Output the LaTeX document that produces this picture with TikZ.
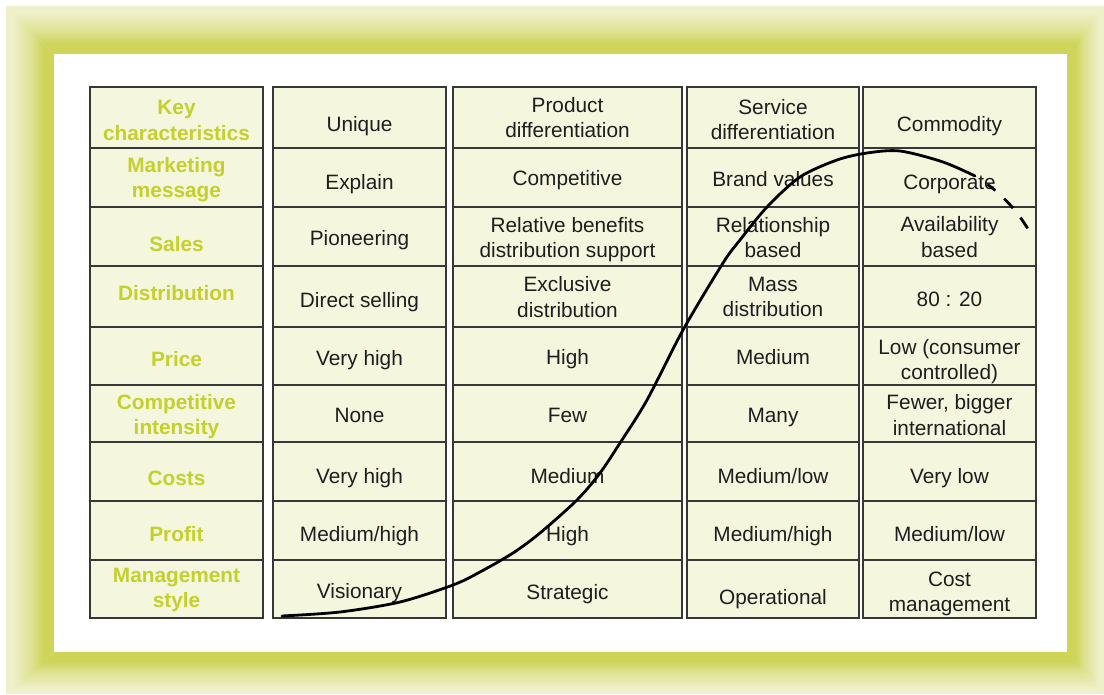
\documentclass[tikz,border=0pt]{standalone}
\usepackage{fontspec}
\setmainfont{Liberation Sans}
\definecolor{lbl}{RGB}{196,208,44}
\definecolor{cellbg}{RGB}{244,246,222}
\definecolor{bandDark}{RGB}{205,212,88}
\definecolor{bandLight}{RGB}{238,240,202}
\colorlet{bandMid}{bandDark!55!bandLight}
\definecolor{txt}{RGB}{30,30,30}
\definecolor{edge}{RGB}{55,55,55}
\pgfdeclareverticalshading{bandTop}{100bp}{color(0bp)=(bandDark); color(36bp)=(bandDark); color(47bp)=(bandMid); color(68bp)=(bandLight); color(100bp)=(bandLight)}
\pgfdeclareverticalshading{bandBottom}{100bp}{color(0bp)=(bandLight); color(32bp)=(bandLight); color(53bp)=(bandMid); color(64bp)=(bandDark); color(100bp)=(bandDark)}
\pgfdeclarehorizontalshading{bandLeft}{100bp}{color(0bp)=(bandLight); color(32bp)=(bandLight); color(53bp)=(bandMid); color(64bp)=(bandDark); color(100bp)=(bandDark)}
\pgfdeclarehorizontalshading{bandRight}{100bp}{color(0bp)=(bandDark); color(36bp)=(bandDark); color(47bp)=(bandMid); color(68bp)=(bandLight); color(100bp)=(bandLight)}
\newcommand\mycell[8]{%
 \node[cellbox,minimum width={(#3-#2)*1pt},minimum height={(#5-#4)*1pt}] (#1) at ({(#2+#3)/2},{(#4+#5)/2}) {};
 \node[#6] (#1t) at ([yshift=#8]#1.center) {#7};}
\begin{document}
\begin{tikzpicture}[x=1pt,y=-1pt,
  cellbox/.style={draw=edge,fill=cellbg,line width=1.3pt,inner sep=0pt,outer sep=0pt},
  basetext/.style={align=center,inner sep=0pt,font=\fontsize{20.8}{25.5}\selectfont},
  lab/.style={basetext,text=lbl,font=\fontsize{20.8}{25.5}\selectfont\bfseries},
  val/.style={basetext,text=txt},
  curveline/.style={line width=2.8pt}]
\useasboundingbox (0,0) rectangle (1104,695);
\fill[white] (0,0) rectangle (1104,695);
% frame bands
\shade[shading=bandTop] (6,6) -- (1104,6) -- (1067,54) -- (54,54) -- cycle;
\shade[shading=bandLeft] (6,6) -- (54,54) -- (54,652) -- (6,694) -- cycle;
\shade[shading=bandBottom] (6,694) -- (54,652) -- (1067,652) -- (1104,694) -- cycle;
\shade[shading=bandRight] (1104,6) -- (1067,54) -- (1067,652) -- (1104,694) -- cycle;
\fill[white] (54,54) rectangle (1067,652);
% column 1
\mycell{a1}{90}{263}{87}{148}{lab}{Key\\characteristics}{-3pt}
\mycell{a2}{90}{263}{148}{207}{lab}{Marketing\\message}{-2pt}
\mycell{a3}{90}{263}{207}{266}{lab}{Sales}{-8pt}
\mycell{a4}{90}{263}{266}{327}{lab}{Distribution}{3pt}
\mycell{a5}{90}{263}{327}{385}{lab}{Price}{-3pt}
\mycell{a6}{90}{263}{385}{442}{lab}{Competitive\\intensity}{-3pt}
\mycell{a7}{90}{263}{442}{501}{lab}{Costs}{-7pt}
\mycell{a8}{90}{263}{501}{560}{lab}{Profit}{-4pt}
\mycell{a9}{90}{263}{560}{618}{lab}{Management\\style}{-1pt}
% column 2
\mycell{b1}{273}{446}{87}{148}{val}{Unique}{-9pt}
\mycell{b2}{273}{446}{148}{207}{val}{Explain}{-7pt}
\mycell{b3}{273}{446}{207}{266}{val}{Pioneering}{-4pt}
\mycell{b4}{273}{446}{266}{327}{val}{Direct selling}{-6pt}
\mycell{b5}{273}{446}{327}{385}{val}{Very high}{-4pt}
\mycell{b6}{273}{446}{385}{442}{val}{None}{-2pt}
\mycell{b7}{273}{446}{442}{501}{val}{Very high}{-7pt}
\mycell{b8}{273}{446}{501}{560}{val}{Medium/high}{-6pt}
\mycell{b9}{273}{446}{560}{618}{val}{Visionary}{-4pt}
% column 3
\mycell{c1}{453}{682}{87}{148}{val}{Product\\differentiation}{0pt}
\mycell{c2}{453}{682}{148}{207}{val}{Competitive}{-3pt}
\mycell{c3}{453}{682}{207}{266}{val}{Relative benefits\\distribution support}{-3pt}
\mycell{c4}{453}{682}{266}{327}{val}{Exclusive\\distribution}{-0.5pt}
\mycell{c5}{453}{682}{327}{385}{val}{High}{-3pt}
\mycell{c6}{453}{682}{385}{442}{val}{Few}{-2pt}
\mycell{c7}{453}{682}{442}{501}{val}{Medium}{-5pt}
\mycell{c8}{453}{682}{501}{560}{val}{High}{-6pt}
\mycell{c9}{453}{682}{560}{618}{val}{Strategic}{-5pt}
% column 4
\mycell{d1}{687}{859}{87}{148}{val}{Service\\differentiation}{-2pt}
\mycell{d2}{687}{859}{148}{207}{val}{Brand values}{-2pt}
\mycell{d3}{687}{859}{207}{266}{val}{Relationship\\based}{-1pt}
\mycell{d4}{687}{859}{266}{327}{val}{Mass\\distribution}{-0.5pt}
\mycell{d5}{687}{859}{327}{385}{val}{Medium}{-1pt}
\mycell{d6}{687}{859}{385}{442}{val}{Many}{-4pt}
\mycell{d7}{687}{859}{442}{501}{val}{Medium/low}{-5pt}
\mycell{d8}{687}{859}{501}{560}{val}{Medium/high}{-6pt}
\mycell{d9}{687}{859}{560}{618}{val}{Operational}{-10pt}
% column 5
\mycell{e1}{863}{1036}{87}{148}{val}{Commodity}{-9pt}
\mycell{e2}{863}{1036}{148}{207}{val}{Corporate}{-7pt}
\mycell{e3}{863}{1036}{207}{266}{val}{Availability\\based}{-0.5pt}
\mycell{e4}{863}{1036}{266}{327}{val}{80 : 20}{-3pt}
\mycell{e5}{863}{1036}{327}{385}{val}{Low (consumer\\controlled)}{-5.5pt}
\mycell{e6}{863}{1036}{385}{442}{val}{Fewer, bigger\\international}{-1.5pt}
\mycell{e7}{863}{1036}{442}{501}{val}{Very low}{-7pt}
\mycell{e8}{863}{1036}{501}{560}{val}{Medium/low}{-4pt}
\mycell{e9}{863}{1036}{560}{618}{val}{Cost\\management}{-5pt}
% curve
\draw[curveline,line cap=round] plot[smooth,tension=0.5] coordinates {
 (282,616) (340,612) (400,602) (453,585) (480,572) (513,553) (540,533) (577,500)
 (600,473) (620,443) (647,400) (683,330) (723,263) (740,240) (767,207) (800,177)
 (837,160) (867,153) (900,151) (943,162) (975,176)};
\draw[curveline,dash pattern=on 0pt off 15pt on 10pt off 12pt on 13pt off 12pt on 13pt off 40pt]
 (975,176) .. controls (995,188) and (1018,208) .. (1034,240);
\end{tikzpicture}
\end{document}
